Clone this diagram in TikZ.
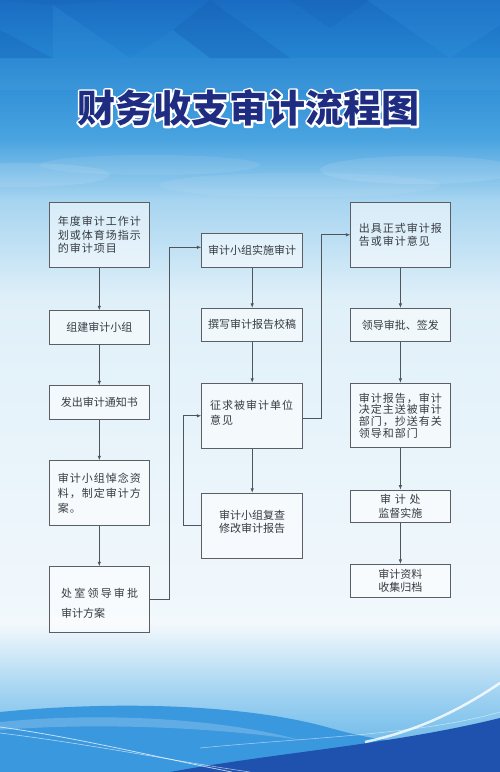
\documentclass[tikz,border=0pt]{standalone}
\usepackage{fontspec}
\newfontfamily\cjk{Noto Sans CJK SC}
\newfontfamily\cjkw[LetterSpace=9]{Noto Sans CJK SC}
\newfontfamily\cjkww[LetterSpace=20]{Noto Sans CJK SC}
\usetikzlibrary{arrows.meta}
\definecolor{boxline}{HTML}{5A5F66}
\definecolor{conn}{HTML}{50555C}
\definecolor{txt}{HTML}{363B42}
\definecolor{navy}{HTML}{1E2C82}
\definecolor{bgA}{HTML}{1A6CC2}
\definecolor{bgB}{HTML}{2586D2}
\definecolor{bgC}{HTML}{4AA4E0}
\definecolor{bgD}{HTML}{A6D4F0}
\definecolor{bgE}{HTML}{E0F0F9}
\definecolor{bgF}{HTML}{F2F8FC}
\definecolor{bgG}{HTML}{A0D2F1}
\definecolor{bgH}{HTML}{55AEE6}
\definecolor{waveM}{HTML}{3A98DE}
\definecolor{waveD}{HTML}{1F52AE}
\definecolor{facetD}{HTML}{1256AA}
\definecolor{facetL}{HTML}{3A9BE0}
\newcommand\outlined[1]{\rlap{\special{pdf:literal direct 2 Tr 4 w 1 1 1 RG 1 j}#1\special{pdf:literal direct 0 Tr}}#1}
\begin{document}
\begin{tikzpicture}[x=1pt,y=-1pt,
  box/.style={draw=boxline, line width=0.8pt, fill=white, fill opacity=0.55,
    text opacity=1, text=txt, font=\cjk\fontsize{11}{13.5}\selectfont,
    align=left, inner sep=0pt, minimum width=100pt},
  wbox/.style={box, font=\cjkw\fontsize{11}{13.5}\selectfont},
  boxtext/.style={text=txt, align=left, inner sep=0pt},
  arr/.style={draw=conn, line width=0.8pt, -{Latex[length=4.5pt,width=3.5pt]}},
  titlefont/.style={font=\cjk\bfseries\fontsize{38}{40}\selectfont}]
\useasboundingbox (0,0) rectangle (500,772);
% ---------- background ----------
\shade[top color=bgA, bottom color=bgB] (0,0) rectangle (500,60);
\shade[top color=bgB, bottom color=bgC] (0,59.5) rectangle (500,140);
\shade[top color=bgC, bottom color=bgD] (0,139.5) rectangle (500,200);
\shade[top color=bgD, bottom color=bgE] (0,199.5) rectangle (500,300);
\shade[top color=bgE, bottom color=bgF] (0,299.5) rectangle (500,625);
\shade[top color=bgF, bottom color=bgG] (0,624.5) rectangle (500,695);
\shade[top color=bgG, bottom color=bgH] (0,694.5) rectangle (500,772);
% facets
\fill[facetD, opacity=.22] (0,30) -- (52,58) -- (0,58) -- cycle;
\fill[facetL, opacity=.22] (53,5) -- (53,58) -- (130,58) -- cycle;
\fill[facetD, opacity=.22] (173,30) -- (210,0) -- (290,58) -- (210,58) -- cycle;
\fill[facetD, opacity=.15] (290,0) -- (330,28) -- (370,0) -- cycle;
\fill[facetL, opacity=.20] (367,0) -- (450,58) -- (500,25) -- (500,0) -- cycle;
\fill[facetL, opacity=.15] (130,58) -- (210,58) -- (173,30) -- cycle;
\fill[facetD, opacity=.12] (0,0) -- (120,0) -- (53,5) -- cycle;
\fill[white, opacity=.04] (0,58) rectangle (500,90);
% clouds
\fill[white, opacity=.10] (20,175) ellipse (90 and 12);
\fill[white, opacity=.08] (150,165) ellipse (110 and 10);
\fill[white, opacity=.10] (420,170) ellipse (100 and 14);
\fill[white, opacity=.07] (300,185) ellipse (140 and 12);
% bottom waves
\fill[waveM] (0,712) .. controls (120,700) and (250,705) .. (330,728)
  .. controls (400,748) and (450,745) .. (500,735) -- (500,772) -- (0,772) -- cycle;
\fill[waveD] (170,772) .. controls (280,752) and (390,745) .. (500,718) -- (500,772) -- cycle;
\fill[waveM!60!white, opacity=.5] (0,722) .. controls (100,712) and (220,718) .. (300,740)
  .. controls (220,728) and (100,722) .. (0,730) -- cycle;
\draw[white, line width=2.5pt, opacity=.8] (500,683) .. controls (460,710) and (420,730) .. (365,742);
\draw[white, line width=0.8pt, opacity=.7] (0,727) .. controls (80,738) and (160,758) .. (232,772);
\draw[white, line width=0.6pt, opacity=.6] (0,733) .. controls (90,744) and (180,762) .. (250,772);
\draw[white, line width=0.6pt, opacity=.5] (200,748) .. controls (300,738) and (420,735) .. (500,712);
% ---------- title ----------
\node[titlefont, text=navy] (title) at (248.5,108) {\outlined{财务收支审计流程图}};
% ---------- left column ----------
\node[wbox, minimum height=65pt] (b1) at (99.3,234.8) {年度审计工作计\\划或体育场指示\\的审计项目};
\node[box, minimum height=33.3pt] (b2) at (99.3,327.4) {组建审计小组};
\node[box, minimum height=33.6pt] (b3) at (99.3,402.5) {发出审计通知书};
\node[wbox, minimum height=65pt, font=\cjkw\fontsize{11}{15}\selectfont] (b4) at (99.3,493.2) {审计小组悼念资\\料，制定审计方\\案。};
\node[box, minimum height=65.6pt] (b5) at (99.3,599.5) {};
\node[boxtext, anchor=west, font=\fontsize{11}{20}\selectfont] (b5t) at (61,603.3) {\cjkww 处室领导审批\\\cjk 审计方案};
% ---------- middle column ----------
\node[box, minimum width=101pt, minimum height=34pt] (m1) at (252.2,250.3) {审计小组实施审计};
\node[box, minimum width=101pt, minimum height=33pt] (m2) at (252.2,324.8) {撰写审计报告校稿};
\node[box, minimum width=101pt, minimum height=65pt] (m3) at (252.2,415.8) {};
\node[boxtext, anchor=west, font=\cjkw\fontsize{11}{15}\selectfont] (m3t) at (210,412.5) {征求被审计单位\\意见};
\node[box, minimum width=101pt, minimum height=65pt] (m4) at (252.2,525.8) {};
\node[boxtext, font=\cjk\fontsize{11}{13.3}\selectfont] (m4t) at (252.2,521.7) {审计小组复查\\修改审计报告};
% ---------- right column ----------
\node[wbox, minimum width=99.3pt, minimum height=65pt] (r1) at (400.4,234.8) {出具正式审计报\\告或审计意见};
\node[box, minimum width=99.3pt, minimum height=33.4pt] (r2) at (400.4,325) {领导审批、签发};
\node[wbox, minimum width=99.3pt, minimum height=64.4pt, font=\cjkw\fontsize{11}{11.7}\selectfont] (r3) at (400.4,415.5) {审计报告，审计\\决定主送被审计\\部门，抄送有关\\领导和部门};
\node[box, minimum width=99.3pt, minimum height=32.7pt, align=center] (r4) at (400.4,506.4) {审\,\,计\,\,处\\监督实施};
\node[box, minimum width=99.3pt, minimum height=33.4pt, align=center, font=\cjk\fontsize{11}{12.5}\selectfont] (r5) at (400.4,581) {审计资料\\收集归档};
% ---------- connectors ----------
\draw[arr] (b1) -- (b2);
\draw[arr] (b2) -- (b3);
\draw[arr] (b3) -- (b4);
\draw[arr] (b4) -- (b5);
\draw[arr] (b5.east) -- ++(20,0) |- ([yshift=3pt]m1.west);
\draw[arr] (m1) -- (m2);
\draw[arr] (m2) -- (m3);
\draw[arr] (m3) -- (m4);
\draw[arr] (m4.west) -- ++(-18,0) |- (m3.west);
\draw[arr] ([yshift=-3pt]m3.east) -- ++(18.5,0) |- (r1.west);
\draw[arr] (r1) -- (r2);
\draw[arr] (r2) -- (r3);
\draw[arr] (r3) -- (r4);
\draw[arr] (r4) -- (r5);
\end{tikzpicture}
\end{document}
